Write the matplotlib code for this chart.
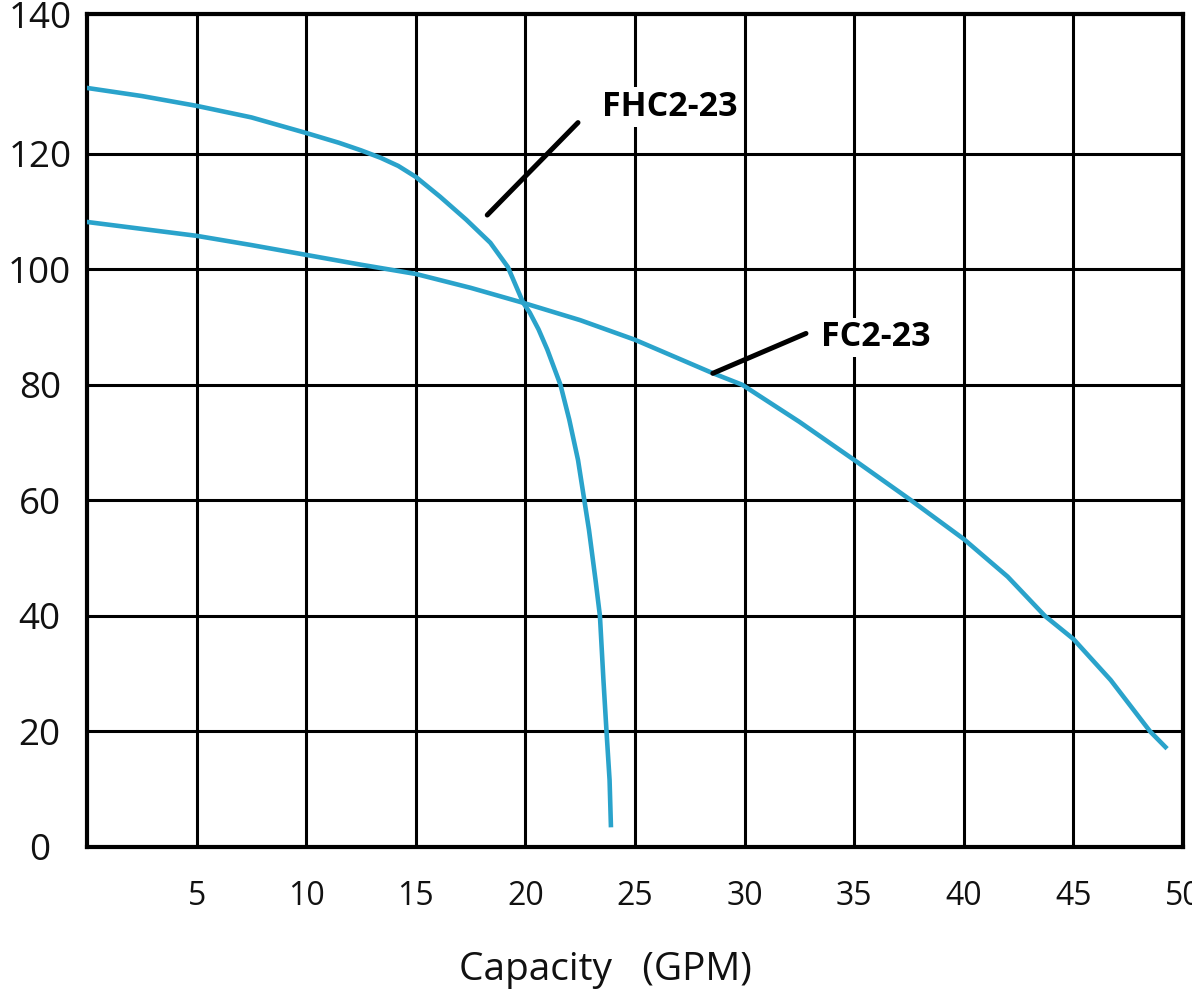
import numpy as np
import matplotlib.pyplot as plt
plt.rcParams["font.family"] = ["Open Sans", "DejaVu Sans"]

# FHC2-23 curve (capacity GPM, head)
fhc_x = [0, 2.5, 5, 7.5, 10, 11.5, 12.5, 13.4, 14.2, 15, 16.1, 17.3, 18.4, 19.2, 19.9, 20.2, 20.6, 21.0,
         21.6, 22.0, 22.4, 22.9, 23.2, 23.4, 23.56, 23.7, 23.84, 23.9]
fhc_y = [131.4, 130.0, 128.3, 126.3, 123.6, 121.9, 120.6, 119.3, 117.9, 116.0, 112.6, 108.6, 104.6, 100.4,
         94.2, 92.5, 89.6, 86.1, 80.0, 74.0, 67.0, 54.9, 46.2, 40.0, 28.9, 20.0, 11.6, 3.8]

# FC2-23 curve
fc_x = [0, 2.5, 5, 7.5, 10, 12.5, 15, 17.5, 19.9, 22.5, 25, 28.5, 29.9, 32.5, 35, 37.6, 40, 42,
        43.7, 45, 46.7, 48.5, 49.2]
fc_y = [108.2, 107.0, 105.8, 104.2, 102.5, 100.8, 99.2, 96.8, 94.2, 91.2, 87.8, 82.1, 80.0, 73.6, 67.0,
        60.0, 53.3, 46.8, 40.0, 36.0, 28.9, 20.0, 17.3]

x_ticks = [5, 10, 15, 20, 25, 30, 35, 40, 45, 50]
y_ticks = [0, 20, 40, 60, 80, 100, 120, 144.2]
y_tick_labels = ["0", "20", "40", "60", "80", "100", "120", "140"]

fhc_label = "FHC2-23"
fc_label = "FC2-23"
curve_color = "#2aa3cb"

fig = plt.figure(figsize=(11.92, 9.92), dpi=100)
ax = fig.add_axes([87/1192, 145/992, 1096/1192, 833/992])

ax.plot(fhc_x, fhc_y, color=curve_color, lw=3.3, solid_joinstyle="round", zorder=3)
ax.plot(fc_x, fc_y, color=curve_color, lw=3.3, solid_joinstyle="round", zorder=3)

# leader lines + labels
ax.plot([18.26, 22.4], [109.4, 125.4], color="black", lw=3.6, solid_capstyle="round", zorder=4)
ax.text(23.5, 128.1, fhc_label, fontsize=24.5, fontweight="bold", va="center", ha="left", zorder=5,
        bbox=dict(facecolor="white", edgecolor="none", pad=2))
ax.plot([28.55, 32.8], [82.0, 88.9], color="black", lw=3.6, solid_capstyle="round", zorder=4)
ax.text(33.5, 88.2, fc_label, fontsize=24.5, fontweight="bold", va="center", ha="left", zorder=5,
        bbox=dict(facecolor="white", edgecolor="none", pad=2))

ax.set_xlim(0, 50)
ax.set_ylim(0, 144.2)
ax.set_xticks(x_ticks)
ax.set_yticks(y_ticks)
ax.set_yticklabels(y_tick_labels)
ax.grid(True, color="black", lw=2.2)
ax.set_axisbelow(True)
for s in ax.spines.values():
    s.set_linewidth(3)
    s.set_color("black")
ax.tick_params(axis="both", length=0)
ax.tick_params(axis="y", labelsize=26.5, pad=34, colors="#111111")
ax.tick_params(axis="x", labelsize=23, pad=24, colors="#111111")
for lab in ax.get_yticklabels():
    lab.set_horizontalalignment("center")

fig.text(605/1192, 1 - 970/992, "Capacity   (GPM)", fontsize=28, ha="center", va="center", color="#111111")

plt.savefig("out.png", dpi=100)
